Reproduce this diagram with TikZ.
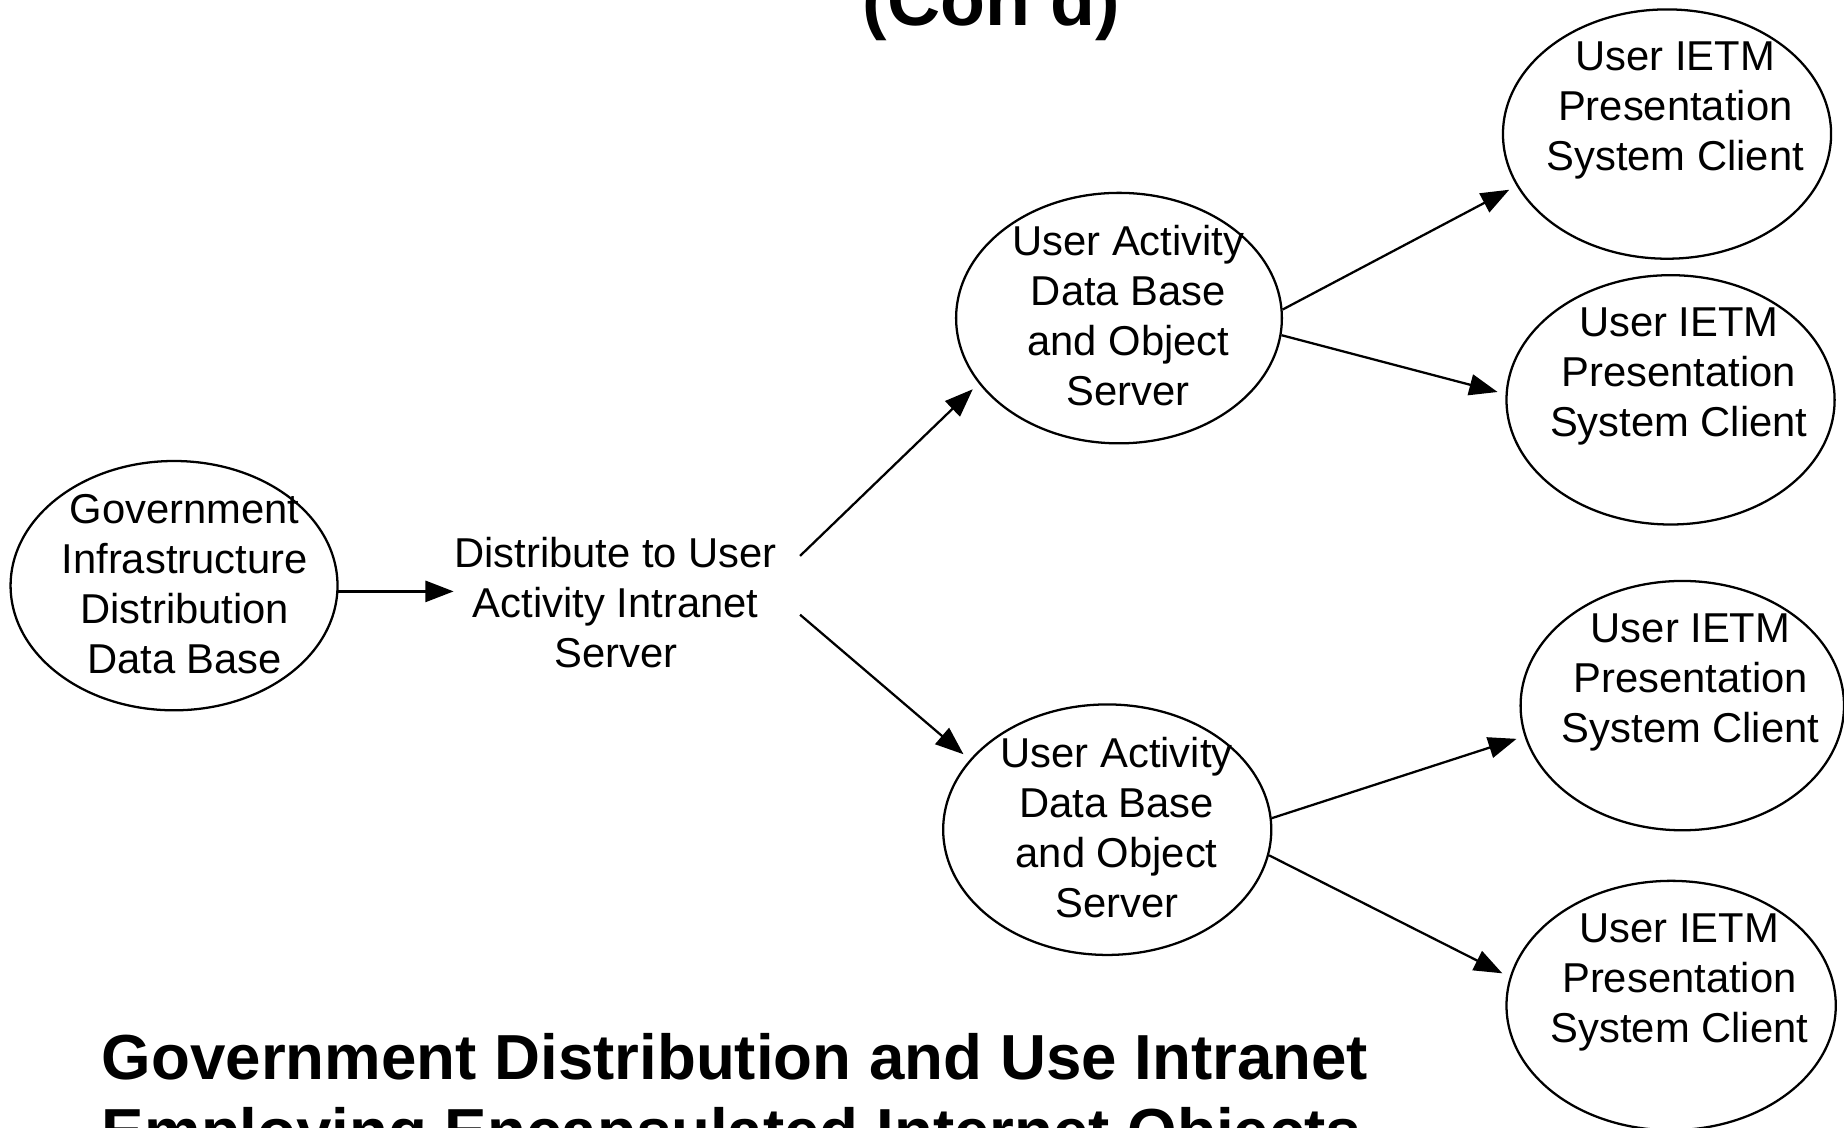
\documentclass[tikz,border=0pt]{standalone}
\usepackage{fontspec}
\setmainfont{Liberation Sans}
\usetikzlibrary{shapes.geometric,arrows.meta}
\tikzset{
  blob/.style={ellipse,draw=black,line width=.55pt,inner sep=0pt},
  txt/.style={align=center,inner sep=0pt,font=\fontsize{10.1}{12.1}\selectfont},
  arr/.style={line width=.55pt,shorten >=.07cm,-{Triangle[length=.24cm,width=.18cm]}},
  big/.style={inner sep=0pt,font=\fontsize{15.4}{18}\selectfont\bfseries}
}
\begin{document}
\begin{tikzpicture}
\useasboundingbox (0,0) rectangle (15.68,-9.59);
\clip (0,0) rectangle (15.68,-9.59);
% titles, cut by the frame
\node[big,font=\fontsize{17.8}{20}\selectfont\bfseries,anchor=base] (contd) at (8.43,-0.22) {(Con'd)};
\node[big,anchor=base west] (title1) at (0.86,-9.18) {Government Distribution and Use Intranet};
\node[big,anchor=base west] (title2) at (0.86,-9.81) {Employing Encapsulated Internet Objects};
% source
\node[blob,minimum width=2.78cm,minimum height=2.12cm] (gov) at (1.48,-4.98) {};
\node[txt] at ([shift={(.09,.01)}]gov) {Government\\Infrastructure\\Distribution\\Data Base};
\node[txt] (dist) at (5.235,-5.127) {Distribute to User\\Activity Intranet\\Server};
% user activity servers
\node[blob,minimum width=2.77cm,minimum height=2.13cm] (ua1) at (9.515,-2.705) {};
\node[txt] at ([shift={(.08,.02)}]ua1) {User Activity\\Data Base\\and Object\\Server};
\node[blob,minimum width=2.79cm,minimum height=2.13cm] (ua2) at (9.415,-7.055) {};
\node[txt] at ([shift={(.08,.02)}]ua2) {User Activity\\Data Base\\and Object\\Server};
% clients
\node[blob,minimum width=2.79cm,minimum height=2.12cm] (c1) at (14.175,-1.14) {};
\node[txt] at ([shift={(.07,.20)}]c1) {User IETM\\Presentation\\System Client};
\node[blob,minimum width=2.79cm,minimum height=2.12cm] (c2) at (14.205,-3.40) {};
\node[txt] at ([shift={(.07,.20)}]c2) {User IETM\\Presentation\\System Client};
\node[blob,minimum width=2.75cm,minimum height=2.12cm] (c3) at (14.305,-6.00) {};
\node[txt] at ([shift={(.07,.20)}]c3) {User IETM\\Presentation\\System Client};
\node[blob,minimum width=2.80cm,minimum height=2.12cm] (c4) at (14.21,-8.55) {};
\node[txt] at ([shift={(.07,.20)}]c4) {User IETM\\Presentation\\System Client};
% connectors
\coordinate (dtop) at ([shift={(.19,.40)}]dist.east);
\coordinate (dbot) at ([shift={(.19,-.10)}]dist.east);
\draw[arr,shorten >=0pt] (gov.-2) -- (gov.-2 -| dist.west);
\draw[arr] (dtop) -- (ua1.205);
\draw[arr] (dbot) -- (ua2.153.5);
\draw[arr] (ua1.3.5) -- (c1.199);
\draw[arr] (ua1.-6.7) -- (c2.178);
\draw[arr] (ua2.4.5) -- (c3.191.7);
\draw[arr] (ua2.-9.2) -- (c4.170);
\end{tikzpicture}
\end{document}
